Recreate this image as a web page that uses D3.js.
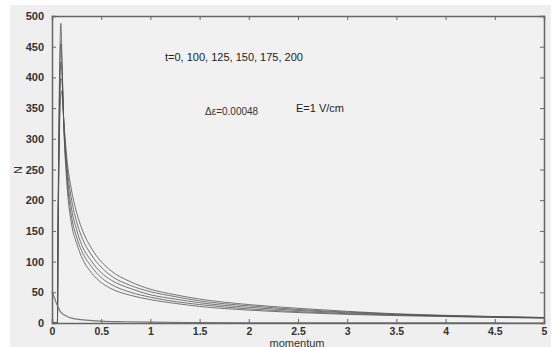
<!DOCTYPE html>
<html>
<head>
<meta charset="utf-8">
<script src="https://cdn.jsdelivr.net/npm/d3@7"></script>
<style>
  body { margin: 0; background: #fff; }
  svg { display: block; font-family: "Liberation Sans", Arial, sans-serif; }
</style>
</head>
<body>
<svg id="chart" width="551" height="347"></svg>
<script>
// momentum grid for the t=0 curve
const p0 = [0, 0.02, 0.05, 0.08, 0.1, 0.15, 0.2, 0.3, 0.5, 0.75, 1, 1.5, 2, 3, 4, 5];
const n0 = [50, 43, 30, 20, 16, 11, 8, 5.5, 3, 2, 1.3, 0.7, 0.4, 0.2, 0.1, 0];

// momentum grid for the later curves
const pGrid = [0, 0.05, 0.055, 0.06, 0.07, 0.08, 0.09, 0.1, 0.12, 0.15, 0.2, 0.25, 0.3, 0.4, 0.5, 0.6, 0.8, 1, 1.25, 1.5, 2, 2.5, 3, 3.5, 4, 4.5, 5];
const n100 = [0, 0, 0, 130, 320, 440, 488, 440, 320, 230, 160, 130, 108, 82, 66, 56, 45, 38, 32, 27, 21, 17, 14, 12, 10.5, 9, 8];
const n125 = [0, 0, 0, 125, 300, 410, 455, 425, 322, 240, 172, 140, 118, 92, 74, 63, 50, 42, 35, 30, 23, 18.5, 15.2, 12.8, 11, 9.5, 8.2];
const n150 = [0, 0, 0, 118, 280, 385, 425, 410, 325, 250, 185, 152, 128, 101, 82, 70, 56, 46, 39, 33, 25.5, 20.5, 16.5, 13.6, 11.6, 10, 8.5];
const n175 = [0, 0, 0, 110, 265, 360, 398, 395, 328, 260, 200, 165, 141, 111, 91, 77, 61, 51, 43, 36, 28, 22, 17.8, 14.4, 12, 10.3, 8.8];
const n200 = [0, 0, 0, 100, 250, 340, 370, 378, 330, 270, 215, 180, 155, 122, 100, 85, 67, 55, 46, 39, 30, 24, 19, 15, 12.5, 10.5, 9];
const later = [n100, n125, n150, n175, n200];

const xTicks = d3.range(0, 5.01, 0.5);
const yTicks = d3.range(0, 501, 50);

const svg = d3.select('#chart');
const margin = { top: 16, right: 7, bottom: 24, left: 52 };
const W = 551, H = 347;
const plotW = W - margin.left - margin.right;
const plotH = 323 - margin.top;

// figure background (scanned gray, white strip top/left)
svg.append('rect').attr('x', 10).attr('y', 5).attr('width', W - 10).attr('height', H - 5).attr('fill', '#efefef');

const g = svg.append('g').attr('transform', `translate(${margin.left},${margin.top})`);

const xScale = d3.scaleLinear().domain([0, 5]).range([0, plotW]);
const yScale = d3.scaleLinear().domain([0, 500]).range([plotH, 0]);

g.append('rect').attr('width', plotW).attr('height', plotH).attr('fill', '#f1f1f1');

const line = d3.line()
  .x(d => xScale(d[0]))
  .y(d => yScale(d[1]))
  .curve(d3.curveMonotoneX);

later.forEach(vals => {
  g.append('path')
    .datum(pGrid.map((p, i) => [p, vals[i]]))
    .attr('d', line)
    .attr('fill', 'none')
    .attr('stroke', '#555')
    .attr('stroke-width', 1)
    .attr('opacity', 0.8);
});

g.append('path')
  .datum(p0.map((p, i) => [p, n0[i]]))
  .attr('d', line)
  .attr('fill', 'none')
  .attr('stroke', '#777')
  .attr('stroke-width', 1.2);

// axes, MATLAB style: inward ticks on all four sides
const axisColor = '#666';
const xAxis = g.append('g').attr('transform', `translate(0,${plotH})`)
  .call(d3.axisBottom(xScale).tickValues(xTicks).tickSize(-4).tickPadding(5).tickFormat(d3.format('~g')));
const xTop = g.append('g')
  .call(d3.axisTop(xScale).tickValues(xTicks).tickSize(-4).tickFormat(''));
const yAxis = g.append('g')
  .call(d3.axisLeft(yScale).tickValues(yTicks).tickSize(-4).tickPadding(8));
const yRight = g.append('g').attr('transform', `translate(${plotW},0)`)
  .call(d3.axisRight(yScale).tickValues(yTicks).tickSize(-4).tickFormat(''));

[xAxis, xTop, yAxis, yRight].forEach(a => {
  a.select('.domain').attr('stroke', axisColor).attr('stroke-width', 1.5);
  a.selectAll('.tick line').attr('stroke', axisColor);
  a.selectAll('text').attr('fill', '#333').attr('font-size', 11).attr('font-weight', 'bold')
    .attr('font-family', '"Liberation Sans", Arial, sans-serif');
});
xAxis.selectAll('text').attr('font-size', 10.5);

// labels
svg.append('text').attr('x', 297).attr('y', 346.5).attr('text-anchor', 'middle')
  .attr('font-size', 11).attr('fill', '#333').text('momentum');
svg.append('text').attr('transform', 'translate(22,170) rotate(-90)').attr('text-anchor', 'middle')
  .attr('font-size', 11).attr('fill', '#333').text('N');

svg.append('text').attr('x', 165).attr('y', 61)
  .attr('font-size', 11).attr('fill', '#222').text('t=0, 100, 125, 150, 175, 200');
svg.append('text').attr('x', 205).attr('y', 115)
  .attr('font-size', 10).attr('fill', '#333').text('\u0394\u03b5=0.00048');
svg.append('text').attr('x', 296).attr('y', 112)
  .attr('font-size', 11).attr('fill', '#222').text('E=1 V/cm');
</script>
</body>
</html>
